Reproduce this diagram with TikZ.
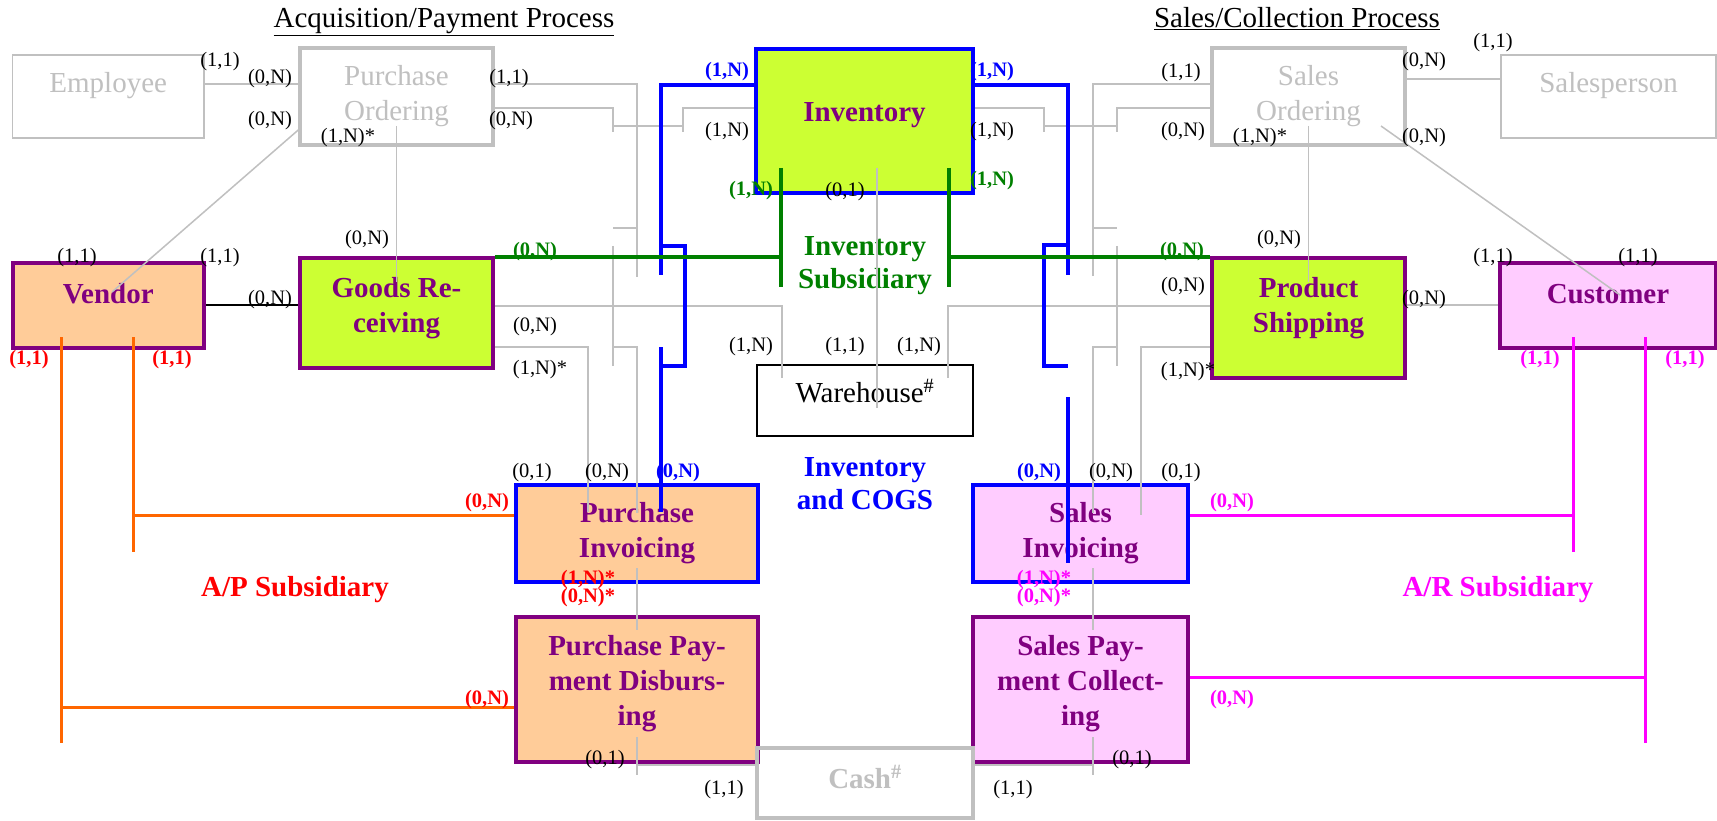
\documentclass[tikz,border=0pt]{standalone}
\usepackage{fontspec}
\setmainfont{Liberation Serif}
\definecolor{lg}{HTML}{C0C0C0}
\definecolor{pur}{HTML}{800080}
\definecolor{peach}{HTML}{FFCC99}
\definecolor{lime}{HTML}{CCFF33}
\definecolor{pinkf}{HTML}{FFCCFF}
\definecolor{grn}{HTML}{008000}
\definecolor{orng}{HTML}{FF6600}
\definecolor{blu}{HTML}{0000FF}
\definecolor{mag}{HTML}{FF00FF}
\definecolor{rd}{HTML}{FF0000}
\newcommand\bigtxt{\fontsize{29}{35}\selectfont}
\newcommand\midtxt{\fontsize{29}{33}\selectfont}
\newcommand\smtxt{\fontsize{20.5}{24}\selectfont}
\newcommand\dpt[1]{\rule[-#1]{0pt}{#1}}
\begin{document}
\begin{tikzpicture}[x=1pt,y=-1pt,
  box/.style={rectangle, inner sep=0pt, font=\bigtxt\bfseries, text=pur},
  ent/.style={box, draw=pur, line width=4pt},
  gbox/.style={rectangle, inner sep=0pt, font=\bigtxt, text=lg, draw=lg, line width=1.8pt},
  gboxt/.style={gbox, line width=3.5pt},
  lab/.style={font=\smtxt, inner sep=0pt},
  blab/.style={font=\smtxt\bfseries, inner sep=0pt},
  gl/.style={draw=lg, line width=1.5pt},
  bl/.style={draw=blu, line width=4pt},
  grl/.style={draw=grn, line width=3.5pt},
  orl/.style={draw=orng, line width=3pt},
  mgl/.style={draw=mag, line width=3pt}]
\useasboundingbox (0,0) rectangle (1717,821);
\fill[white] (0,0) rectangle (1717,821);

% titles
\node[font=\bigtxt, anchor=base, inner sep=0pt] (t1) at (444,28) {\underline{Acquisition/Payment Process}};
\node[font=\bigtxt, anchor=base, inner sep=0pt] (t2) at (1297,28) {\underline{Sales/Collection Process}};

% boxes
\node[gbox, minimum width=191.5pt, minimum height=83pt, text height=20pt, text depth=27pt] (Emp) at (108.25,96.5) {Employee};
\node[gboxt, align=center, minimum width=193pt, minimum height=97pt] (PO) at (396.5,96.5) {Purchase\\Ordering};
\node[gboxt, align=center, minimum width=193pt, minimum height=97pt] (SO) at (1308.5,96.5) {Sales\\Ordering};
\node[gbox, minimum width=215pt, minimum height=83pt, text height=20pt, text depth=27pt] (SP) at (1608.5,96.5) {Salesperson};
\node[ent, draw=blu, fill=lime, minimum width=217pt, minimum height=144pt, text height=20pt, text depth=18pt] (Inv) at (864.5,121) {Inventory};
\node[ent, fill=peach, minimum width=191.5pt, minimum height=85pt, text height=20pt, text depth=25pt] (Ven) at (108.25,305.5) {Vendor};
\node[ent, fill=lime, align=center, minimum width=193pt, minimum height=110pt] (GR) at (396.5,313) {Goods Re-\\ceiving\dpt{17pt}};
\node[ent, fill=lime, align=center, minimum width=193pt, minimum height=120pt] (PS) at (1308.5,318) {Product\\Shipping\dpt{26pt}};
\node[ent, fill=pinkf, minimum width=216pt, minimum height=85pt, text height=20pt, text depth=25pt] (Cus) at (1608,305.5) {Customer};
\node[draw=black, line width=1.8pt, font=\bigtxt, inner sep=0pt, minimum width=216pt, minimum height=71pt, text height=22pt, text depth=19pt] (WH) at (865,400.5) {Warehouse\textsuperscript{\#}};
\node[ent, draw=blu, fill=peach, align=center, minimum width=242pt, minimum height=97pt] (PI) at (637,533.5) {Purchase\\Invoicing};
\node[ent, draw=blu, fill=pinkf, align=center, minimum width=215pt, minimum height=97pt] (SI) at (1080.5,533.5) {Sales\\Invoicing};
\node[ent, fill=peach, align=center, minimum width=242pt, minimum height=145pt] (PPD) at (637,689.5) {Purchase Pay-\\ment Disburs-\\ing\dpt{18pt}};
\node[ent, fill=pinkf, align=center, minimum width=215pt, minimum height=145pt] (SPC) at (1080.5,689.5) {Sales Pay-\\ment Collect-\\ing\dpt{18pt}};
\node[gboxt, font=\bigtxt\bfseries, minimum width=216pt, minimum height=70pt, text height=22pt, text depth=12pt] (Cash) at (865,783) {Cash\textsuperscript{\#}};

% big labels
\node[font=\midtxt\bfseries, text=grn, align=center, inner sep=0pt] (isub) at (865,266) {Inventory\\Subsidiary};
\node[font=\midtxt\bfseries, text=blu, align=center, inner sep=0pt] (icogs) at (865,484) {Inventory\\and COGS};
\node[font=\bigtxt\bfseries, text=rd, inner sep=0pt] (aps) at (295,590) {A/P Subsidiary};
\node[font=\bigtxt\bfseries, text=mag, inner sep=0pt] (ars) at (1498,590) {A/R Subsidiary};

% gray connectors, acquisition side
\draw[gl] (Emp.east |- 0,84) -- (PO.west |- 0,84);
\draw[gl] (PO.west |- 0,130) -- (112,292);
\draw[gl] (396.5,126) -- (396.5,282);
\draw[gl] (PO.east |- 0,84) -| (637,277);
\draw[gl] (613,228) -- (637,228);
\draw[gl] (613,246) -- (613,366);
\draw[gl] (613,347) -- (637,347) -- (637,513);
\draw[gl] (PO.east |- 0,108) -| (613,132);
\draw[gl] (613,126) -- (683,126);
\draw[gl] (Inv.west |- 0,108) -| (683,132);
\draw[gl] (GR.east |- 0,306) -| (782,378);
\draw[gl] (GR.east |- 0,347) -| (588,512);
\draw[gl] (877,168) -- (877,408);
\draw[gl] (637,568) -- (637,630);
\draw[gl] (637,737) -- (637,775);
\draw[gl] (637,765) -- (Cash.west |- 0,765);
% gray connectors, sales side
\draw[gl] (SO.west |- 0,84) -| (1093,276);
\draw[gl] (1093,228) -- (1117,228);
\draw[gl] (1117,246) -- (1117,366);
\draw[gl] (1117,347) -- (1093,347) -- (1093,513);
\draw[gl] (SO.west |- 0,108) -| (1117,132);
\draw[gl] (1117,126) -- (1044,126);
\draw[gl] (Inv.east |- 0,108) -| (1044,132);
\draw[gl] (PS.west |- 0,306) -| (948,378);
\draw[gl] (PS.west |- 0,347) -| (1141,515);
\draw[gl] (1308.5,126) -- (1308.5,282);
\draw[gl] (SO.east |- 0,79) -- (SP.west |- 0,79);
\draw[gl] (1381,126) -- (1620,295);
\draw[gl] (PS.east |- 0,305) -- (Cus.west |- 0,305);
\draw[gl] (1093,568) -- (1093,630);
\draw[gl] (1093,737) -- (1093,775);
\draw[gl] (Cash.east |- 0,765) -- (1093,765);

\draw[black, line width=2pt] (Ven.east |- 0,305) -- (GR.west |- 0,305);

% blue: inventory and COGS
\draw[bl] (Inv.west |- 0,85) -| (661,275);
\draw[bl] (661,246) -- (685,246) -- (685,366) -- (661,366);
\draw[bl] (661,347) -- (661,512);
\draw[bl] (Inv.east |- 0,85) -| (1068,275);
\draw[bl] (1068,245) -- (1044,245) -- (1044,366) -- (1068,366);
\draw[bl] (1068,397) -- (1068,563);

% green: inventory subsidiary
\draw[grl] (781,168) -- (781,287);
\draw[grl] (949,168) -- (949,287);
\draw[grl] (GR.east |- 0,257) -- (781,257);
\draw[grl] (949,257) -- (PS.west |- 0,257);

% orange: A/P
\draw[orl] (61,337) -- (61,743);
\draw[orl] (133,337) -- (133,552);
\draw[orl] (133,515) -- (PI.west |- 0,515);
\draw[orl] (61,707) -- (PPD.west |- 0,707);

% magenta: A/R
\draw[mgl] (1573,337) -- (1573,552);
\draw[mgl] (1645,337) -- (1645,743);
\draw[mgl] (SI.east |- 0,515) -- (1573,515);
\draw[mgl] (SPC.east |- 0,677) -- (1645,677);

% black cardinality labels
\node[lab] (c1) at (220,62) {(1,1)};
\node[lab] (c2) at (270,79) {(0,N)};
\node[lab] (c3) at (270,121) {(0,N)};
\node[lab] (c4) at (348,138) {(1,N)*};
\node[lab] (c5) at (509,79) {(1,1)};
\node[lab] (c6) at (511,121) {(0,N)};
\node[lab] (c7) at (77,258) {(1,1)};
\node[lab] (c8) at (220,258) {(1,1)};
\node[lab] (c9) at (270,300) {(0,N)};
\node[lab] (c10) at (367,240) {(0,N)};
\node[lab] (c11) at (535,327) {(0,N)};
\node[lab] (c12) at (540,370) {(1,N)*};
\node[lab] (c13) at (727,132) {(1,N)};
\node[lab] (c14) at (992,132) {(1,N)};
\node[lab] (c15) at (845,192) {(0,1)};
\node[lab] (c16) at (751,347) {(1,N)};
\node[lab] (c17) at (845,347) {(1,1)};
\node[lab] (c18) at (919,347) {(1,N)};
\node[lab] (c19) at (532,473) {(0,1)};
\node[lab] (c20) at (607,473) {(0,N)};
\node[lab] (c21) at (1111,473) {(0,N)};
\node[lab] (c22) at (1181,473) {(0,1)};
\node[lab] (c23) at (605,760) {(0,1)};
\node[lab] (c24) at (724,790) {(1,1)};
\node[lab] (c25) at (1013,790) {(1,1)};
\node[lab] (c26) at (1132,760) {(0,1)};
\node[lab] (c27) at (1181,73) {(1,1)};
\node[lab] (c28) at (1183,132) {(0,N)};
\node[lab] (c29) at (1183,287) {(0,N)};
\node[lab] (c30) at (1188,372) {(1,N)*};
\node[lab] (c31) at (1279,240) {(0,N)};
\node[lab] (c32) at (1260,138) {(1,N)*};
\node[lab] (c33) at (1424,62) {(0,N)};
\node[lab] (c34) at (1424,138) {(0,N)};
\node[lab] (c35) at (1493,43) {(1,1)};
\node[lab] (c36) at (1424,300) {(0,N)};
\node[lab] (c37) at (1493,258) {(1,1)};
\node[lab] (c38) at (1638,258) {(1,1)};

% coloured cardinality labels
\node[blab, text=blu] (b1) at (727,72) {(1,N)};
\node[blab, text=blu] (b2) at (992,72) {(1,N)};
\node[blab, text=blu] (b3) at (678,473) {(0,N)};
\node[blab, text=blu] (b4) at (1039,473) {(0,N)};
\node[blab, text=grn] (g1) at (751,191) {(1,N)};
\node[blab, text=grn] (g2) at (992,181) {(1,N)};
\node[blab, text=grn] (g3) at (535,252) {(0,N)};
\node[blab, text=grn] (g4) at (1182,252) {(0,N)};
\node[blab, text=rd] (r1) at (29,360) {(1,1)};
\node[blab, text=rd] (r2) at (172,360) {(1,1)};
\node[blab, text=rd] (r3) at (487,503) {(0,N)};
\node[blab, text=rd] (r4) at (487,700) {(0,N)};
\node[blab, text=rd] (r5) at (588,580) {(1,N)*};
\node[blab, text=rd] (r6) at (588,598) {(0,N)*};
\node[blab, text=mag] (m1) at (1540,360) {(1,1)};
\node[blab, text=mag] (m2) at (1685,360) {(1,1)};
\node[blab, text=mag] (m3) at (1232,503) {(0,N)};
\node[blab, text=mag] (m4) at (1232,700) {(0,N)};
\node[blab, text=mag] (m5) at (1044,580) {(1,N)*};
\node[blab, text=mag] (m6) at (1044,598) {(0,N)*};
\end{tikzpicture}
\end{document}
